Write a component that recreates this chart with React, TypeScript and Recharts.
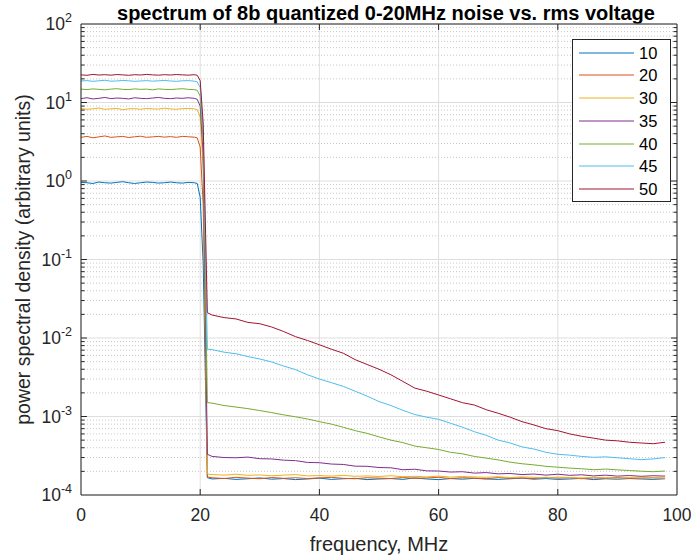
import { LineChart, Line, XAxis, YAxis, CartesianGrid, ReferenceLine, Legend } from 'recharts';

// frequency grid (MHz): 1 MHz steps across the passband, the roll-off edge, then 2 MHz steps
const freqMHz = [
  0, 1, 2, 3, 4, 5, 6, 7, 8, 9, 10, 11, 12, 13, 14, 15, 16, 17, 18, 19,
  19.5, 20, 20.5, 21.2,
  22, 24, 26, 28, 30, 32, 34, 36, 38, 40, 42, 44, 46, 48, 50, 52, 54, 56, 58, 60,
  62, 64, 66, 68, 70, 72, 74, 76, 78, 80, 82, 84, 86, 88, 90, 92, 94, 96, 98,
];

const psd10 = [
  0.96, 0.95, 0.93, 0.97, 0.95, 0.94, 0.96, 0.98, 0.95, 0.93, 0.95, 0.97, 0.96, 0.94, 0.95, 0.97, 0.95, 0.94, 0.96, 0.95,
  0.93, 0.62, 0.09, 1.66e-4,
  1.60e-4, 1.63e-4, 1.58e-4, 1.61e-4, 1.65e-4, 1.59e-4, 1.62e-4, 1.57e-4, 1.60e-4, 1.64e-4,
  1.58e-4, 1.61e-4, 1.63e-4, 1.57e-4, 1.60e-4, 1.62e-4, 1.58e-4, 1.65e-4, 1.60e-4, 1.57e-4,
  1.62e-4, 1.59e-4, 1.63e-4, 1.60e-4, 1.58e-4, 1.61e-4, 1.64e-4, 1.59e-4, 1.62e-4, 1.58e-4,
  1.60e-4, 1.63e-4, 1.57e-4, 1.61e-4, 1.59e-4, 1.62e-4, 1.60e-4, 1.58e-4, 1.61e-4,
];

const psd20 = [
  3.60, 3.70, 3.55, 3.65, 3.75, 3.60, 3.65, 3.70, 3.58, 3.66, 3.72, 3.60, 3.65, 3.70, 3.62, 3.68, 3.60, 3.70, 3.66, 3.62,
  3.55, 2.7, 0.5, 1.70e-4,
  1.66e-4, 1.62e-4, 1.68e-4, 1.64e-4, 1.61e-4, 1.67e-4, 1.63e-4, 1.66e-4, 1.62e-4, 1.65e-4,
  1.68e-4, 1.63e-4, 1.61e-4, 1.66e-4, 1.64e-4, 1.62e-4, 1.67e-4, 1.63e-4, 1.65e-4, 1.68e-4,
  1.62e-4, 1.66e-4, 1.64e-4, 1.61e-4, 1.67e-4, 1.63e-4, 1.65e-4, 1.62e-4, 1.68e-4, 1.64e-4,
  1.66e-4, 1.61e-4, 1.65e-4, 1.63e-4, 1.67e-4, 1.62e-4, 1.64e-4, 1.66e-4, 1.63e-4,
];

const psd30 = [
  8.4, 8.2, 8.3, 8.5, 8.2, 8.3, 8.4, 8.1, 8.3, 8.35, 8.2, 8.4, 8.3, 8.25, 8.45, 8.3, 8.2, 8.35, 8.4, 8.3,
  8.1, 6.5, 1.4, 1.85e-4,
  1.82e-4, 1.79e-4, 1.84e-4, 1.78e-4, 1.80e-4, 1.76e-4, 1.79e-4, 1.82e-4, 1.75e-4, 1.77e-4,
  1.74e-4, 1.78e-4, 1.73e-4, 1.75e-4, 1.72e-4, 1.76e-4, 1.71e-4, 1.73e-4, 1.70e-4, 1.74e-4,
  1.69e-4, 1.72e-4, 1.70e-4, 1.68e-4, 1.71e-4, 1.67e-4, 1.70e-4, 1.68e-4, 1.66e-4, 1.69e-4,
  1.67e-4, 1.65e-4, 1.68e-4, 1.66e-4, 1.64e-4, 1.67e-4, 1.65e-4, 1.66e-4, 1.64e-4,
];

const psd35 = [
  11.2, 11.5, 11.1, 11.3, 11.6, 11.2, 11.4, 11.3, 11.1, 11.5, 11.3, 11.2, 11.4, 11.6, 11.3, 11.2, 11.4, 11.3, 11.5, 11.3,
  11.0, 9.0, 2.2, 3.3e-4,
  3.10e-4, 3.00e-4, 2.98e-4, 3.04e-4, 2.90e-4, 2.88e-4, 2.78e-4, 2.74e-4, 2.60e-4, 2.58e-4,
  2.48e-4, 2.45e-4, 2.33e-4, 2.32e-4, 2.24e-4, 2.22e-4, 2.10e-4, 2.13e-4, 2.03e-4, 2.02e-4,
  1.96e-4, 1.98e-4, 1.90e-4, 1.93e-4, 1.86e-4, 1.88e-4, 1.82e-4, 1.85e-4, 1.79e-4, 1.84e-4,
  1.78e-4, 1.81e-4, 1.75e-4, 1.79e-4, 1.74e-4, 1.77e-4, 1.73e-4, 1.76e-4, 1.74e-4,
];

const psd40 = [
  14.8, 14.6, 14.9, 14.7, 14.5, 14.8, 15.0, 14.7, 14.6, 14.9, 14.7, 14.8, 14.5, 14.9, 14.7, 14.6, 14.8, 15.0, 14.7, 14.6,
  14.3, 12.0, 3.0, 1.5e-3,
  1.48e-3, 1.38e-3, 1.32e-3, 1.26e-3, 1.19e-3, 1.12e-3, 1.05e-3, 0.99e-3, 0.93e-3, 0.86e-3,
  0.80e-3, 0.73e-3, 0.66e-3, 0.61e-3, 0.55e-3, 0.50e-3, 0.465e-3, 0.42e-3, 0.40e-3, 0.38e-3,
  0.35e-3, 0.335e-3, 0.31e-3, 0.295e-3, 0.28e-3, 0.262e-3, 0.25e-3, 0.242e-3, 0.232e-3, 0.226e-3,
  0.22e-3, 0.216e-3, 0.21e-3, 0.214e-3, 0.209e-3, 0.205e-3, 0.201e-3, 0.198e-3, 0.202e-3,
];

const psd45 = [
  18.8, 19.0, 18.6, 18.9, 19.2, 18.7, 18.8, 19.1, 18.9, 18.6, 18.8, 19.0, 18.7, 18.9, 19.1, 18.8, 18.6, 18.9, 19.0, 18.7,
  18.3, 15.5, 4.2, 7.2e-3,
  7.1e-3, 6.6e-3, 6.3e-3, 5.8e-3, 5.4e-3, 4.95e-3, 4.4e-3, 3.95e-3, 3.4e-3, 3.0e-3,
  2.7e-3, 2.42e-3, 2.1e-3, 1.82e-3, 1.55e-3, 1.38e-3, 1.2e-3, 1.06e-3, 0.98e-3, 0.92e-3,
  0.82e-3, 0.73e-3, 0.64e-3, 0.575e-3, 0.5e-3, 0.46e-3, 0.41e-3, 0.385e-3, 0.35e-3, 0.33e-3,
  0.322e-3, 0.31e-3, 0.302e-3, 0.306e-3, 0.298e-3, 0.29e-3, 0.282e-3, 0.288e-3, 0.3e-3,
];

const psd50 = [
  22.5, 22.2, 22.8, 22.4, 22.6, 22.3, 22.7, 22.5, 22.2, 22.6, 22.4, 22.8, 22.5, 22.3, 22.6, 22.4, 22.7, 22.5, 22.3, 22.6,
  22.2, 19.0, 5.5, 0.021,
  0.0196, 0.0182, 0.0175, 0.0158, 0.0152, 0.0138, 0.0121, 0.0104, 0.0093, 0.0082,
  0.0072, 0.0064, 0.0053, 0.0046, 0.0040, 0.0034, 0.0028, 0.0023, 0.0021, 0.00188,
  0.00168, 0.0015, 0.0014, 0.00122, 0.0011, 0.00098, 0.00086, 0.00078, 0.0007, 0.00066,
  0.0006, 0.00056, 0.00053, 0.0005, 0.00049, 0.00047, 0.00046, 0.00045, 0.00047,
];

const seriesNames = ['10', '20', '30', '35', '40', '45', '50'];
const seriesValues = [psd10, psd20, psd30, psd35, psd40, psd45, psd50];
const seriesColors = ['#0072BD', '#D95319', '#EDB120', '#7E2F8E', '#77AC30', '#4DBEEE', '#A2142F'];

const xTicks = [0, 20, 40, 60, 80, 100];
const yTicks = [1e-4, 1e-3, 1e-2, 1e-1, 1, 10, 100];
const yMinor = yTicks.slice(0, -1).flatMap((d) => [2, 3, 4, 5, 6, 7, 8, 9].map((m) => m * d));

const chartData = freqMHz.map((f, i) => {
  const row: Record<string, number> = { f };
  seriesNames.forEach((name, s) => {
    row['v' + name] = seriesValues[s][i];
  });
  return row;
});

const AXIS = '#262626';
const FONT = '"Liberation Sans", Arial, Helvetica, sans-serif';

function PowerTick({ x, y, payload }: any) {
  const exp = Math.round(Math.log10(payload.value));
  return (
    <text x={x} y={y + 6} textAnchor="end" fill={AXIS} fontSize={17.5}>
      10
      <tspan dy={-8} fontSize={12.5}>{exp}</tspan>
    </text>
  );
}

function BoxLegend({ payload }: any) {
  return (
    <div
      style={{
        position: 'relative',
        width: 99,
        height: 163,
        boxSizing: 'border-box',
        border: `1px solid ${AXIS}`,
        background: '#fff',
      }}
    >
      {(payload || []).map((p: any, i: number) => (
        <div
          key={p.value}
          style={{
            position: 'absolute',
            left: 6,
            top: 12.7 + i * 22.7 - 10,
            height: 20,
            display: 'flex',
            alignItems: 'center',
          }}
        >
          <svg width={55} height={4} style={{ display: 'block' }}>
            <line x1={0} y1={2} x2={55} y2={2} stroke={p.color} strokeWidth={1} />
          </svg>
          <span style={{ marginLeft: 5, fontSize: 16.5, color: '#000', lineHeight: '20px' }}>{p.value}</span>
        </div>
      ))}
    </div>
  );
}

export default function App() {
  // log-space offset used for the short inward tick marks on the x axes (~6px)
  const xTickLen = Math.pow(10, 6 / 78.5);

  return (
    <div style={{ position: 'relative', width: 691, height: 556, fontFamily: FONT, background: '#fff' }}>
      <style>{'body{margin:0}'}</style>
      <div
        style={{
          position: 'absolute',
          top: 3,
          left: 81,
          width: 610,
          textAlign: 'center',
          fontWeight: 'bold',
          fontSize: 20,
          lineHeight: '20px',
          color: '#000',
        }}
      >
        spectrum of 8b quantized 0-20MHz noise vs. rms voltage
      </div>
      <LineChart width={691} height={556} data={chartData} margin={{ top: 24, right: 14, bottom: 0, left: 0 }}>
        <CartesianGrid stroke="#dedede" strokeWidth={1} />
        {yMinor.map((v) => (
          <ReferenceLine key={'g' + v} y={v} stroke="#c8c8c8" strokeDasharray="1 2" />
        ))}
        <XAxis
          dataKey="f"
          type="number"
          domain={[0, 100]}
          ticks={xTicks}
          allowDataOverflow
          height={61}
          tickLine={false}
          tickSize={0}
          tickMargin={14}
          stroke={AXIS}
          tick={{ fill: AXIS, fontSize: 17.5 }}
          label={{ value: 'frequency, MHz', position: 'insideBottom', offset: 5, fill: AXIS, fontSize: 20 }}
        />
        <YAxis
          type="number"
          scale="log"
          domain={[1e-4, 100]}
          ticks={yTicks}
          allowDataOverflow
          width={81}
          tickLine={false}
          tickSize={0}
          tickMargin={9}
          stroke={AXIS}
          tick={<PowerTick />}
          label={{
            value: 'power spectral density (arbitrary units)',
            angle: -90,
            position: 'center',
            dx: -17,
            fill: AXIS,
            fontSize: 19.5,
          }}
        />
        {seriesNames.map((name, s) => (
          <Line
            key={name}
            name={name}
            dataKey={'v' + name}
            type="linear"
            stroke={seriesColors[s]}
            strokeWidth={1}
            dot={false}
            activeDot={false}
            isAnimationActive={false}
          />
        ))}
        <ReferenceLine x={100} stroke={AXIS} />
        <ReferenceLine y={100} stroke={AXIS} />
        {yTicks.slice(1, -1).map((v) => (
          <ReferenceLine key={'tl' + v} segment={[{ x: 0, y: v }, { x: 1, y: v }]} stroke={AXIS} />
        ))}
        {yTicks.slice(1, -1).map((v) => (
          <ReferenceLine key={'tr' + v} segment={[{ x: 99, y: v }, { x: 100, y: v }]} stroke={AXIS} />
        ))}
        {yMinor.map((v) => (
          <ReferenceLine key={'ml' + v} segment={[{ x: 0, y: v }, { x: 0.6, y: v }]} stroke={AXIS} />
        ))}
        {yMinor.map((v) => (
          <ReferenceLine key={'mr' + v} segment={[{ x: 99.4, y: v }, { x: 100, y: v }]} stroke={AXIS} />
        ))}
        {xTicks.slice(1, -1).map((v) => (
          <ReferenceLine key={'xb' + v} segment={[{ x: v, y: 1e-4 }, { x: v, y: 1e-4 * xTickLen }]} stroke={AXIS} />
        ))}
        {xTicks.slice(1, -1).map((v) => (
          <ReferenceLine key={'xt' + v} segment={[{ x: v, y: 100 / xTickLen }, { x: v, y: 100 }]} stroke={AXIS} />
        ))}
        <Legend
          layout="vertical"
          align="center"
          verticalAlign="middle"
          content={<BoxLegend />}
          wrapperStyle={{ position: 'absolute', left: 572, top: 39, width: 99, height: 163 }}
        />
      </LineChart>
    </div>
  );
}
